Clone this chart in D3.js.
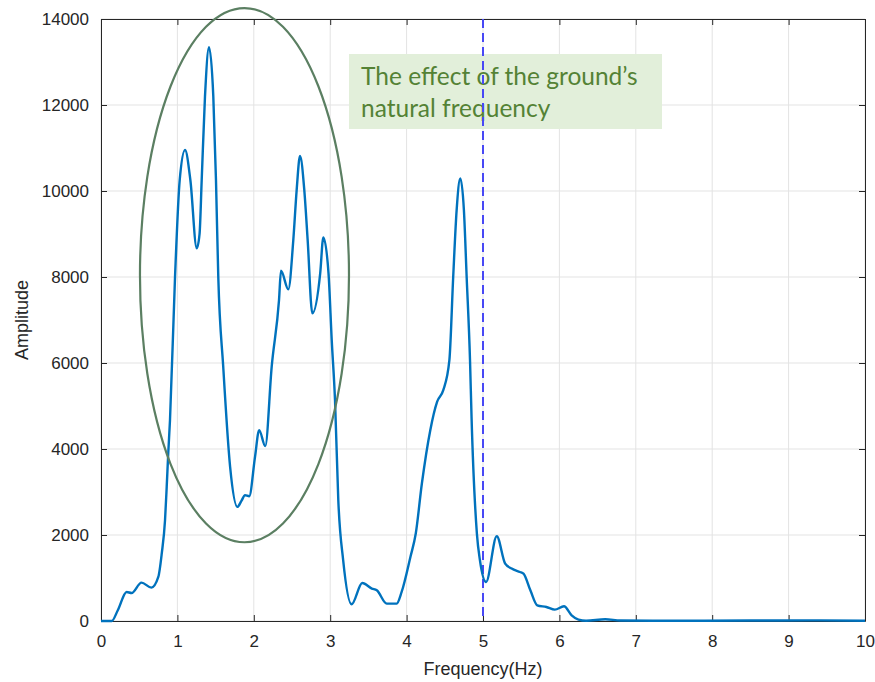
<!DOCTYPE html>
<html>
<head>
<meta charset="utf-8">
<script src="https://cdn.jsdelivr.net/npm/d3@7"></script>
<style>
  body { margin: 0; background: #fff; }
  svg { display: block; }
</style>
</head>
<body>
<svg id="chart" width="875" height="682"></svg>
<script>
// spectrum
var freq = [0, 0.14, 0.22, 0.336, 0.40, 0.53, 0.66, 0.75, 0.795, 0.838, 0.86, 0.88, 0.903,
  0.969, 1.03, 1.10, 1.17, 1.253, 1.29, 1.318, 1.361, 1.414, 1.47, 1.505, 1.535, 1.60, 1.69,
  1.785, 1.84, 1.885, 1.94, 2.016, 2.07, 2.15, 2.234, 2.33, 2.356, 2.452, 2.517, 2.561,
  2.605, 2.661, 2.705, 2.766, 2.869, 2.91, 2.978, 3.02, 3.063, 3.106, 3.17, 3.28, 3.42,
  3.545, 3.61, 3.74, 3.87, 3.935, 4.05, 4.12, 4.2, 4.31, 4.40, 4.48, 4.56, 4.61, 4.655,
  4.703, 4.75, 4.786, 4.83, 4.85, 4.92, 4.96, 5.04, 5.18, 5.29, 5.375, 5.484, 5.53, 5.62,
  5.71, 5.83, 5.94, 6.06, 6.16, 6.25, 6.35, 6.6, 6.8, 7.5, 8.5, 9.3, 10];
var amp = [0, 0, 250, 675, 650, 893, 777, 1024, 1568, 2343, 3118, 3895, 4670,
  8005, 10250, 10953, 10250, 8666, 9000, 10250, 12194, 13343, 12194, 10250, 8005, 5911, 3584,
  2653, 2800, 2925, 2902, 3816, 4438, 4066, 5911, 7463, 8145, 7712, 8859, 10022,
  10814, 10022, 8859, 7153, 8084, 8922, 8084, 6532, 5136, 2809, 1412, 389, 884,
  754, 714, 405, 405, 675, 1489, 2034, 3197, 4438, 5100, 5368, 6066, 8005, 9557,
  10294, 9557, 8005, 6066, 4747, 2034, 1412, 907, 1971, 1335, 1219, 1140, 1103, 714,
  365, 326, 265, 342, 133, 33, 5, 40, 10, 5, 10, 15, 5];

var xTicks = [0, 1, 2, 3, 4, 5, 6, 7, 8, 9, 10];
var yTicks = [0, 2000, 4000, 6000, 8000, 10000, 12000, 14000];
var markerFreq = 5;
// circled region (centre and radii in data units)
var ringCenter = [1.878, 8043];
var ringRadius = [1.368, 6212];
var noteLines = ["The effect of the ground\u2019s", "natural frequency"];

var svg = d3.select('#chart');
var margin = {left: 101, top: 19, right: 10, bottom: 61};
var width = 875 - margin.left - margin.right;
var height = 682 - margin.top - margin.bottom;

var x = d3.scaleLinear().domain([0, 10]).range([0, width]);
var y = d3.scaleLinear().domain([0, 14000]).range([height, 0]);

var g = svg.append('g').attr('transform', 'translate(' + margin.left + ',' + margin.top + ')');

// grid
g.append('g').selectAll('line').data(xTicks).join('line')
  .attr('x1', d => x(d)).attr('x2', d => x(d))
  .attr('y1', 0).attr('y2', height)
  .attr('stroke', '#e3e3e3').attr('stroke-width', 1);
g.append('g').selectAll('line').data(yTicks).join('line')
  .attr('x1', 0).attr('x2', width)
  .attr('y1', d => y(d)).attr('y2', d => y(d))
  .attr('stroke', '#e3e3e3').attr('stroke-width', 1);

// axes (ticks pointing inward, box style)
var tickFont = '"Liberation Sans", Arial, sans-serif';
var xAxis = g.append('g').attr('transform', 'translate(0,' + height + ')')
  .call(d3.axisBottom(x).tickValues(xTicks).tickFormat(d3.format('d'))
    .tickSizeInner(-6).tickSizeOuter(0).tickPadding(14));
var yAxis = g.append('g')
  .call(d3.axisLeft(y).tickValues(yTicks).tickFormat(d3.format('d'))
    .tickSizeInner(-6).tickSizeOuter(0).tickPadding(12));
g.append('g').call(d3.axisTop(x).tickValues(xTicks).tickSizeInner(-6).tickSizeOuter(0).tickFormat(''));
g.append('g').attr('transform', 'translate(' + width + ',0)')
  .call(d3.axisRight(y).tickValues(yTicks).tickSizeInner(-6).tickSizeOuter(0).tickFormat(''));
g.selectAll('.domain').attr('stroke', '#262626');
g.selectAll('.tick line').attr('stroke', '#262626');
g.selectAll('.tick text').attr('fill', '#262626')
  .style('font-family', tickFont).style('font-size', '17px');

// annotation box
var note = g.append('g').attr('transform', 'translate(' + (349 - margin.left) + ',' + (54 - margin.top) + ')');
note.append('rect').attr('width', 313).attr('height', 75).attr('fill', '#e2efda');
note.selectAll('text').data(noteLines).join('text')
  .attr('x', 12).attr('y', (d, i) => 31 + i * 32)
  .attr('fill', '#548235')
  .style('font-family', 'Lato, "Open Sans", sans-serif')
  .style('font-size', '24.5px')
  .text(d => d);

// dashed marker
g.append('line')
  .attr('x1', x(markerFreq)).attr('x2', x(markerFreq))
  .attr('y1', 0).attr('y2', height)
  .attr('stroke', '#4848f5').attr('stroke-width', 2)
  .attr('stroke-dasharray', '9,5');

// spectrum
var pts = freq.map((f, i) => [f, amp[i]]);
g.append('path').datum(pts)
  .attr('fill', 'none')
  .attr('stroke', '#0072bd')
  .attr('stroke-width', 2.4)
  .attr('d', d3.line().x(d => x(d[0])).y(d => y(d[1])).curve(d3.curveMonotoneX));

// circled region
g.append('ellipse')
  .attr('cx', x(ringCenter[0])).attr('cy', y(ringCenter[1]))
  .attr('rx', x(ringRadius[0]) - x(0)).attr('ry', y(0) - y(ringRadius[1]))
  .attr('fill', 'none').attr('stroke', '#5b7f62').attr('stroke-width', 2.2);

// axis titles
svg.append('text')
  .attr('x', margin.left + width / 2).attr('y', 675)
  .attr('text-anchor', 'middle').attr('fill', '#262626')
  .style('font-family', tickFont).style('font-size', '18px')
  .text('Frequency(Hz)');
svg.append('text')
  .attr('transform', 'translate(28,' + (margin.top + height / 2) + ') rotate(-90)')
  .attr('text-anchor', 'middle').attr('fill', '#262626')
  .style('font-family', tickFont).style('font-size', '18px')
  .text('Amplitude');
</script>
</body>
</html>
